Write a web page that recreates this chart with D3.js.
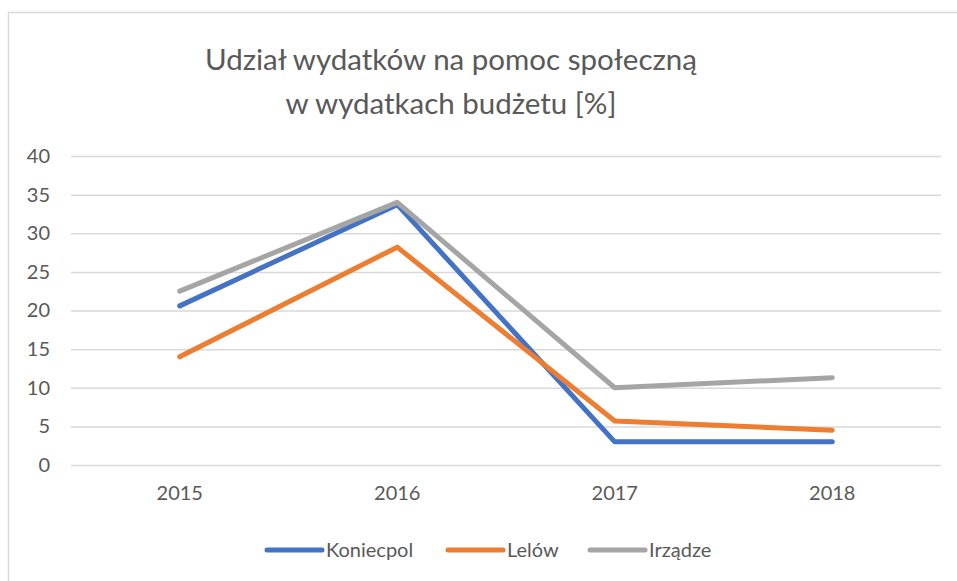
<!DOCTYPE html>
<html>
<head>
<meta charset="utf-8">
<script src="https://cdn.jsdelivr.net/npm/d3@7"></script>
<style>
  body { margin: 0; background: #fff; }
  svg { display: block; font-family: Lato, "Open Sans", sans-serif; }
</style>
</head>
<body>
<svg id="chart" width="957" height="581"></svg>
<script>
// data
var years = ["2015", "2016", "2017", "2018"];
var seriesNames = ["Koniecpol", "Lelów", "Irządze"];
var koniecpol = [20.6, 33.7, 3.0, 3.0];
var lelow = [14.0, 28.2, 5.7, 4.5];
var irzadze = [22.5, 34.0, 10.0, 11.3];
var yTicks = [0, 5, 10, 15, 20, 25, 30, 35, 40];
var colors = ["#4472C4", "#ED7D31", "#A5A5A5"];

var series = [koniecpol, lelow, irzadze].map(function(v, i) {
  return { name: seriesNames[i], color: colors[i], values: v };
});

var svg = d3.select("#chart");
var textColor = "#595959";

// outer chart frame (right/bottom edge outside the picture)
svg.append("rect")
  .attr("x", 8.5).attr("y", 12.5)
  .attr("width", 1000).attr("height", 1000)
  .attr("fill", "none")
  .attr("stroke", "#d9d9d9")
  .attr("stroke-width", 1.5);

var margin = { left: 71, right: 16, top: 156, bottom: 116 };
var width = 957 - margin.left - margin.right;
var height = 581 - margin.top - margin.bottom;

var x = d3.scaleBand().domain(years).range([0, width]);
var y = d3.scaleLinear().domain([0, 40]).range([height, 0]);

var g = svg.append("g")
  .attr("transform", "translate(" + margin.left + "," + margin.top + ")");

// gridlines
g.append("g")
  .call(d3.axisLeft(y).tickValues(yTicks).tickSize(-width).tickFormat(""))
  .call(function(a) {
    a.select(".domain").remove();
    a.selectAll("line").attr("stroke", "#d9d9d9").attr("stroke-width", 1.5);
  });

// y labels
g.append("g")
  .call(d3.axisLeft(y).tickValues(yTicks).tickSize(0).tickPadding(21))
  .call(function(a) {
    a.select(".domain").remove();
    a.selectAll("text")
      .attr("fill", textColor)
      .style("font-size", "20px")
      .style("font-family", "Lato, 'Open Sans', sans-serif");
  });

// x labels
g.append("g")
  .attr("transform", "translate(0," + height + ")")
  .call(d3.axisBottom(x).tickSize(0).tickPadding(21))
  .call(function(a) {
    a.select(".domain").remove();
    a.selectAll("text")
      .attr("fill", textColor)
      .style("font-size", "20px")
      .style("font-family", "Lato, 'Open Sans', sans-serif");
  });

var line = d3.line()
  .x(function(d, i) { return x(years[i]) + x.bandwidth() / 2; })
  .y(function(d) { return y(d); });

g.selectAll(".series")
  .data(series)
  .enter().append("path")
  .attr("class", "series")
  .attr("d", function(d) { return line(d.values); })
  .attr("fill", "none")
  .attr("stroke", function(d) { return d.color; })
  .attr("stroke-width", 5)
  .attr("stroke-linecap", "round")
  .attr("stroke-linejoin", "round");

// title
var titleLines = ["Udział wydatków na pomoc społeczną", "w wydatkach budżetu [%]"];
var title = svg.append("text")
  .attr("text-anchor", "middle")
  .attr("fill", textColor)
  .style("font-size", "34px");
title.selectAll("tspan")
  .data(titleLines)
  .enter().append("tspan")
  .attr("x", 451)
  .attr("y", function(d, i) { return 70 + i * 44; })
  .text(function(d) { return d; });
// fit the first line to the width seen in the picture
var w0 = title.select("tspan").node().getComputedTextLength();
title.style("font-size", (34 * 492 / w0).toFixed(1) + "px");

// legend
var legendX = [267, 448, 590];
var legend = svg.selectAll(".legend")
  .data(series)
  .enter().append("g")
  .attr("class", "legend")
  .attr("transform", function(d, i) { return "translate(" + legendX[i] + ",550)"; });
legend.append("line")
  .attr("x1", 0).attr("x2", 55)
  .attr("stroke", function(d) { return d.color; })
  .attr("stroke-width", 5)
  .attr("stroke-linecap", "round");
legend.append("text")
  .attr("x", 59)
  .attr("dy", "0.35em")
  .attr("fill", textColor)
  .style("font-size", "20px")
  .text(function(d) { return d.name; });
</script>
</body>
</html>
